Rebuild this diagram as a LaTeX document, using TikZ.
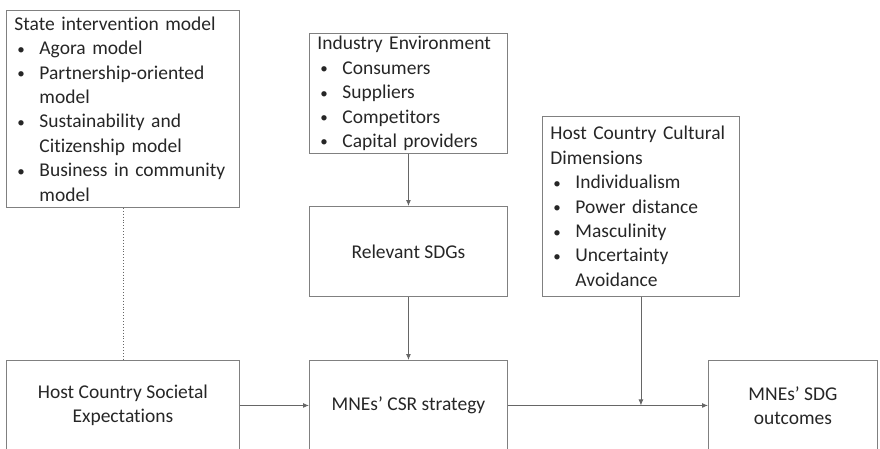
\documentclass[tikz,border=0pt]{standalone}
\usepackage{fontspec}
\setmainfont{Carlito}[Ligatures=NoCommon]
\usetikzlibrary{arrows.meta}

\newcommand{\bitem}[1]{\\\hspace*{3pt}\makebox[22pt][l]{\raisebox{0.05ex}{\fontsize{15}{15}\selectfont\textbullet}}#1}
\newcommand{\bcont}[1]{\\\hspace*{25pt}#1}

\tikzset{
  box/.style={draw=black!50, line width=0.9pt, anchor=north west, inner xsep=8pt, inner ysep=0pt,
    font=\fontsize{19.5}{24.4}\selectfont, text=black!85},
  listbox/.style={box, align=left},
  midbox/.style={box, align=center},
  link/.style={draw=black!60, line width=0.9pt, -{Latex[length=6pt,width=5pt]}}
}

\begin{document}
\begin{tikzpicture}[x=1pt, y=-1pt]

\useasboundingbox (0,0) rectangle (880,448);
\clip (0,0) rectangle (880,448);

% context boxes
\node[listbox, text width=217pt, minimum height=197pt] (state) at (6,10)
  {State intervention model\bitem{Agora model}\bitem{Partnership-oriented}\bcont{model}%
   \bitem{Sustainability and}\bcont{Citizenship model}\bitem{Business in community}\bcont{model}};
\node[listbox, text width=182pt, minimum height=120pt] (industry) at (309,33)
  {Industry Environment\bitem{Consumers}\bitem{Suppliers}\bitem{Competitors}\bitem{Capital providers}};
\node[listbox, text width=181pt, minimum height=180pt] (culture) at (542,116)
  {Host Country Cultural\\Dimensions\bitem{Individualism}\bitem{Power distance}\bitem{Masculinity}%
   \bitem{Uncertainty}\bcont{Avoidance}};

% main chain
\node[midbox, minimum width=198pt, minimum height=90pt] (sdgs) at (309,206) {Relevant SDGs};
\node[midbox, minimum width=233pt, minimum height=90pt] (societal) at (6,360) {Host Country Societal\\Expectations};
\node[midbox, minimum width=198pt, minimum height=90pt] (csr) at (309,360) {MNEs' CSR strategy};
\node[midbox, minimum width=169pt, minimum height=90pt] (outcome) at (708,360) {MNEs' SDG\\outcomes};

\coordinate (join) at (culture.south |- csr.east);

\draw[link] (industry) -- (sdgs);
\draw[link] (sdgs) -- (csr);
\draw[link] (societal) -- (csr);
\draw[link] (csr) -- (outcome);
\draw[link] (culture) -- (join);
\draw[draw=black!60, line width=0.9pt, dotted] (state.south) -- (state.south |- societal.north);

\end{tikzpicture}
\end{document}
